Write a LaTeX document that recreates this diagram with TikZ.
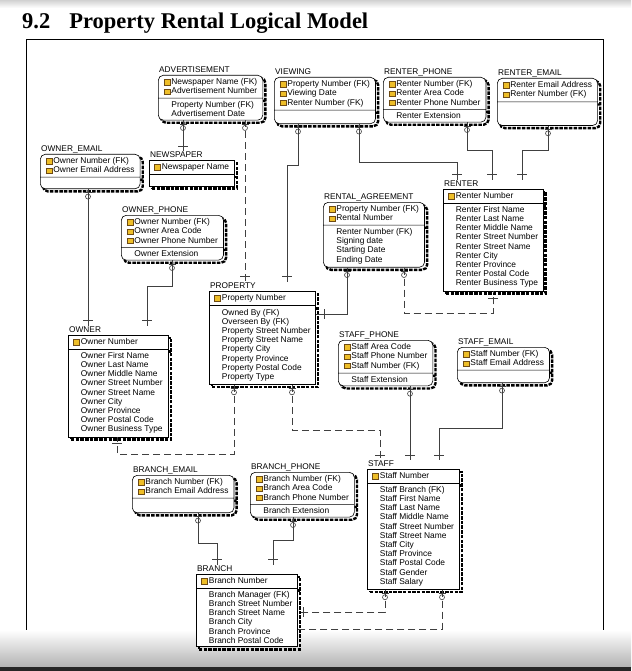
\documentclass[tikz,border=0pt]{standalone}
\usepackage{fontspec}
\setmainfont{Liberation Sans}
\newfontfamily\titlefont{Liberation Serif}
\usetikzlibrary{shapes.multipart,shadows,positioning,decorations.markings}

\definecolor{keyyellow}{RGB}{238,190,40}
\definecolor{keyedge}{RGB}{110,75,20}
% key icon in front of a primary key attribute
\newcommand\pk{\raisebox{-0.4pt}{\setlength\fboxsep{0pt}\setlength\fboxrule{0.6pt}\fcolorbox{keyedge}{keyyellow}{\rule{0pt}{5pt}\rule{5.5pt}{0pt}}}\hspace{0.9pt}}
% indent of a non-key attribute
\newcommand\ind{\hspace*{7.6pt}}

\begin{document}
\begin{tikzpicture}
	[x=1pt, y=-1pt,
	entity/.style={rectangle split, rectangle split parts=2, rectangle split part align=left,
		anchor=north west, align=left, draw=black, line width=0.6pt, fill=white, minimum width=#1,
		inner xsep=5pt, inner ysep=3pt, font=\fontsize{8.4}{9.2}\selectfont,
		general shadow={shadow xshift=2.6pt, shadow yshift=-2.6pt, draw=black, line width=2.4pt, dash pattern=on 3.5pt off 1.2pt}},
	depent/.style={entity=#1, rounded corners=5pt, inner xsep=5.5pt},
	ename/.style={font=\fontsize{8.3}{9}\selectfont, inner sep=0.5pt, text height=6pt, text depth=0pt},
	rel/.style={draw=black!75, line width=0.7pt},
	nid/.style={rel, dash pattern=on 7pt off 4pt},
	kid/.style={postaction={decorate, decoration={markings,
		mark=at position 3.5pt with {\draw[solid, line width=0.6pt] (0pt,-3.5pt) -- (0pt,3.5pt);},
		mark=at position 7.5pt with {\draw[solid, line width=0.6pt] (0pt,0pt) circle (2.5pt);}}}},
	par/.style={postaction={decorate, decoration={markings,
		mark=at position -#1 with {\draw[solid, line width=0.6pt] (0pt,-5pt) -- (0pt,5pt);}}}},
	]

	\useasboundingbox (0,0) rectangle (631,671);
	\fill[white] (0,0) rectangle (631,671);
	\shade[top color=black!18, bottom color=white] (0,0) rectangle (631,8);
	\draw[line width=0.8pt] (26,655) |- (603,39) -- (603,655);
	\shade[top color=white, bottom color=black!30] (0,630) rectangle (631,667);
	\fill[black!85] (0,667) rectangle (631,671);

	\node[anchor=base west, inner sep=0, font=\titlefont\bfseries\fontsize{22.5}{26}\selectfont] (title) at (22,29) {9.2\hspace{19pt}Property Rental Logical Model};

	% entities
	\node[depent=104pt] (adv) at (158,75) {\pk Newspaper Name (FK)\\\pk Advertisement Number\nodepart{two}\ind Property Number (FK)\\\ind Advertisement Date};
	\node[depent=100pt] (view) at (274,77) {\pk Property Number (FK)\\\pk Viewing Date\\\pk Renter Number (FK)\nodepart{two}\rule{0pt}{7pt}};
	\node[depent=101pt] (rph) at (383,77) {\pk Renter Number (FK)\\\pk Renter Area Code\\\pk Renter Phone Number\nodepart{two}\ind Renter Extension};
	\node[depent=98pt] (rem) at (497,78) {\pk Renter Email Address\\\pk Renter Number (FK)\nodepart{two}\rule{0pt}{17pt}};
	\node[depent=99pt] (oem) at (40,154) {\pk Owner Number (FK)\\\pk Owner Email Address\nodepart{two}\rule{0pt}{5pt}};
	\node[entity=83pt] (nws) at (149,160) {\pk Newspaper Name\nodepart{two}\rule{0pt}{5pt}};
	\node[depent=102pt] (oph) at (121,215) {\pk Owner Number (FK)\\\pk Owner Area Code\\\pk Owner Phone Number\nodepart{two}\ind Owner Extension};
	\node[depent=99pt] (ra) at (323,202) {\pk Property Number (FK)\\\pk Rental Number\nodepart{two}\ind Renter Number (FK)\\\ind Signing date\\\ind Starting Date\\\ind Ending Date};
	\node[entity=99pt] (rent) at (443,189) {\pk Renter Number\nodepart{two}\ind Renter First Name\\\ind Renter Last Name\\\ind Renter Middle Name\\\ind Renter Street Number\\\ind Renter Street Name\\\ind Renter City\\\ind Renter Province\\\ind Renter Postal Code\\\ind Renter Business Type};
	\node[entity=105pt] (prop) at (209,291) {\pk Property Number\nodepart{two}\ind Owned By (FK)\\\ind Overseen By (FK)\\\ind Property Street Number\\\ind Property Street Name\\\ind Property City\\\ind Property Province\\\ind Property Postal Code\\\ind Property Type};
	\node[entity=100pt] (own) at (68,335) {\pk Owner Number\nodepart{two}\ind Owner First Name\\\ind Owner Last Name\\\ind Owner Middle Name\\\ind Owner Street Number\\\ind Owner Street Name\\\ind Owner City\\\ind Owner Province\\\ind Owner Postal Code\\\ind Owner Business Type};
	\node[depent=94pt] (sph) at (338,340) {\pk Staff Area Code\\\pk Staff Phone Number\\\pk Staff Number (FK)\nodepart{two}\ind Staff Extension};
	\node[depent=92pt] (sem) at (457,347) {\pk Staff Number (FK)\\\pk Staff Email Address\nodepart{two}\rule{0pt}{6pt}};
	\node[depent=100pt] (bem) at (132,475) {\pk Branch Number (FK)\\\pk Branch Email Address\nodepart{two}\rule{0pt}{8pt}};
	\node[depent=103pt] (bph) at (250,472) {\pk Branch Number (FK)\\\pk Branch Area Code\\\pk Branch Phone Number\nodepart{two}\ind Branch Extension};
	\node[entity=101pt] (br) at (196,574) {\pk Branch Number\nodepart{two}\ind Branch Manager (FK)\\\ind Branch Street Number\\\ind Branch Street Name\\\ind Branch City\\\ind Branch Province\\\ind Branch Postal Code};
	\node[entity=92pt] (stf) at (367,469) {\pk Staff Number\nodepart{two}\ind Staff Branch (FK)\\\ind Staff First Name\\\ind Staff Last Name\\\ind Staff Middle Name\\\ind Staff Street Number\\\ind Staff Street Name\\\ind Staff City\\\ind Staff Province\\\ind Staff Postal Code\\\ind Staff Gender\\\ind Staff Salary};

	% entity names
	\foreach \e/\t in {adv/ADVERTISEMENT, view/VIEWING, rph/RENTER\_PHONE, rem/RENTER\_EMAIL,
		oem/OWNER\_EMAIL, nws/NEWSPAPER, oph/OWNER\_PHONE, ra/RENTAL\_AGREEMENT, rent/RENTER,
		prop/PROPERTY, own/OWNER, sph/STAFF\_PHONE, sem/STAFF\_EMAIL, bem/BRANCH\_EMAIL,
		bph/BRANCH\_PHONE, br/BRANCH, stf/STAFF}
		\node[ename, above right=1.5pt and 0.5pt of \e.north west] (\e L) {\t};

	% relationships
	\draw[rel, kid, par=5pt] (183,0 |- adv.south) -- (183,0 |- nwsL.north);
	\draw[nid, kid, par=6pt] (245,0 |- adv.south) -- (245,0 |- propL.north);
	\draw[rel, kid, par=6pt] (298,0 |- view.south) -- (298,165) -| (287,0 |- propL.north);
	\draw[rel, kid, par=6pt] (359,0 |- view.south) -- (359,162) -| (457,0 |- rentL.north);
	\draw[rel, kid, par=6pt] (467,0 |- rph.south) -- (467,150) -| (492,0 |- rentL.north);
	\draw[rel, kid, par=6pt] (548,0 |- rem.south) -- (548,150) -| (522,0 |- rentL.north);
	\draw[rel, kid, par=6pt] (88,0 |- oem.south) -- (88,0 |- ownL.north);
	\draw[rel, kid, par=6pt] (172,0 |- oph.south) -- (172,286) -| (147,0 |- ownL.north);
	\draw[rel, kid, par=8pt] (347,0 |- ra.south) |- (prop.east |- 0,314);
	\draw[nid, kid, par=7pt] (404,0 |- ra.south) -- (404,313) -| (493,0 |- rent.south);
	\draw[rel, kid, par=5pt] (410,0 |- sph.south) -- (410,0 |- stfL.north);
	\draw[rel, kid, par=5pt] (502,0 |- sem.south) -- (502,428) -| (439,0 |- stfL.north);
	\draw[nid, kid, par=5pt] (292,0 |- prop.south) -- (292,430) -| (380,0 |- stfL.north);
	\draw[nid, kid, par=6pt] (234,0 |- prop.south) -- (234,454) -| (117,0 |- own.south);
	\draw[rel, kid, par=6pt] (198,0 |- bem.south) -- (198,543) -| (217,0 |- brL.north);
	\draw[rel, kid, par=6pt] (293,0 |- bph.south) -- (293,540) -| (273,0 |- brL.north);
	\draw[nid, kid, par=6pt] (385,0 |- stf.south) |- (br.east |- 0,612);
	\draw[nid, kid] (442,0 |- stf.south) |- (br.east |- 0,629);
\end{tikzpicture}
\end{document}
